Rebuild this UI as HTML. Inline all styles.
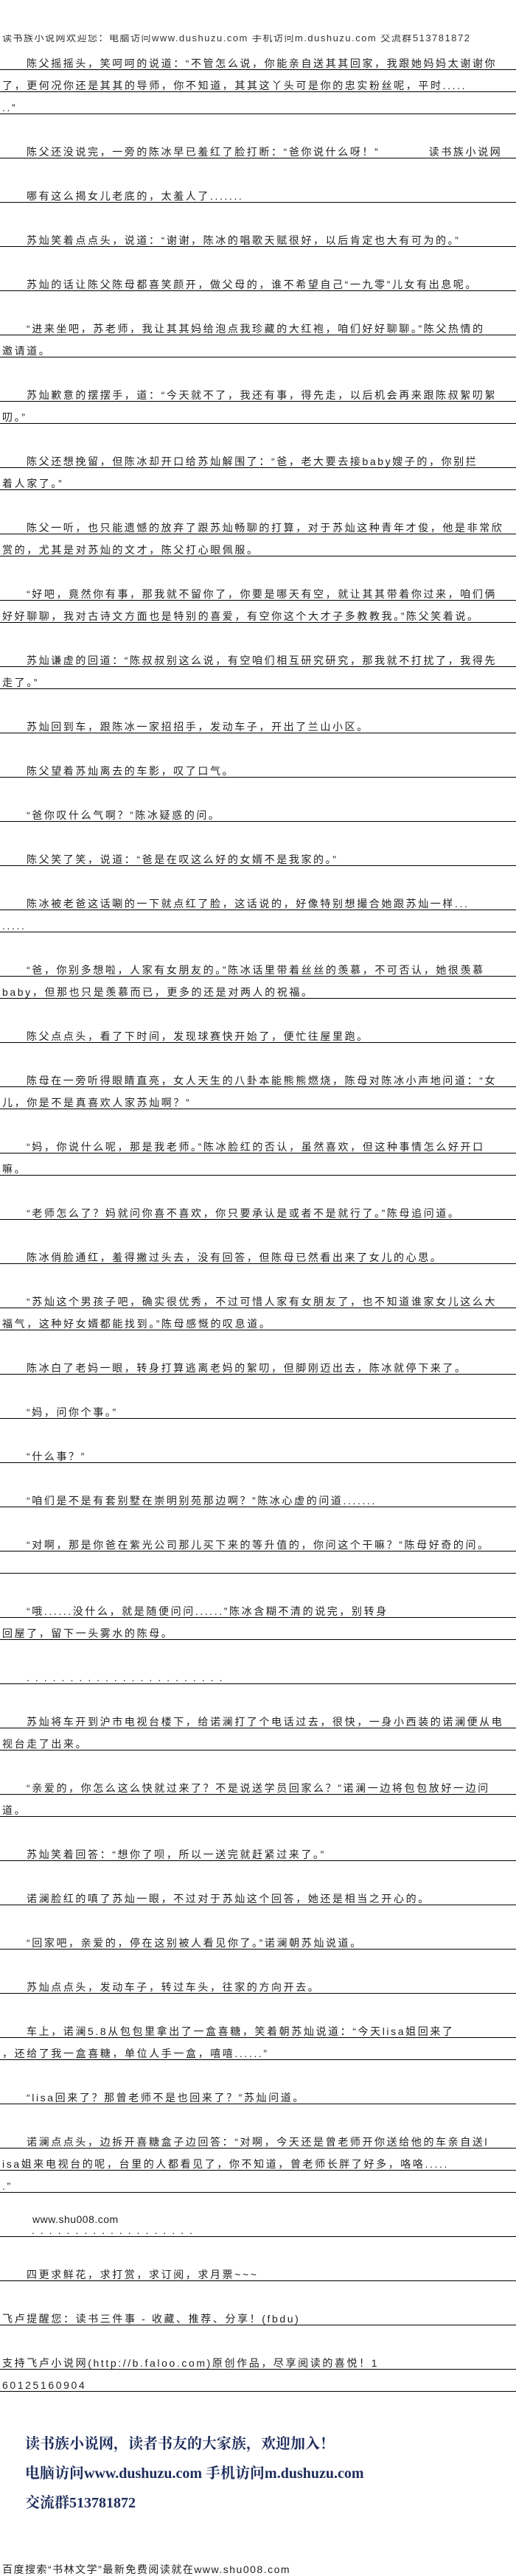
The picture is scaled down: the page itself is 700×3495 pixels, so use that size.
<!DOCTYPE html>
<html><head><meta charset="utf-8">
<style>
html,body{margin:0;padding:0;background:#fff;}
body{width:700px;height:3495px;position:relative;overflow:hidden;font-family:"Liberation Sans","Noto Sans CJK SC",sans-serif;}
.r{position:absolute;left:0;width:700px;height:30px;border-bottom:1px solid #000;box-sizing:border-box;}
.r span{position:absolute;bottom:1px;left:3px;font-size:14px;line-height:14px;letter-spacing:2.6px;color:#222;white-space:nowrap;}
.r.i span{left:36px;}
.hdr{position:absolute;left:0;top:47px;height:11px;width:700px;overflow:hidden;}
.hdr span{position:absolute;bottom:0;left:3px;font-size:13px;line-height:13px;letter-spacing:1.5px;color:#333;white-space:nowrap;}
.blue{position:absolute;left:34px;font-family:"Liberation Serif","Noto Serif CJK SC",serif;font-weight:bold;font-size:20px;line-height:20px;color:#1c2b5a;white-space:nowrap;}
.plain{position:absolute;font-size:14px;line-height:14px;letter-spacing:2.6px;color:#222;white-space:nowrap;}
</style></head><body>
<div class="hdr"><span>读书族小说网欢迎您：电脑访问www.dushuzu.com 手机访问m.dushuzu.com 交流群513781872</span></div>

<div class="r i" style="top:65px"><span>陈父摇摇头，笑呵呵的说道：“不管怎么说，你能亲自送其其回家，我跟她妈妈太谢谢你</span></div>
<div class="r" style="top:95px"><span>了，更何况你还是其其的导师，你不知道，其其这丫头可是你的忠实粉丝呢，平时.....</span></div>
<div class="r" style="top:125px"><span>..”</span></div>
<div class="r i" style="top:185px"><span>陈父还没说完，一旁的陈冰早已羞红了脸打断：“爸你说什么呀！”&#12288;&#12288;&#12288;&#12288;读书族小说网</span></div>
<div class="r i" style="top:245px"><span>哪有这么揭女儿老底的，太羞人了.......</span></div>
<div class="r i" style="top:305px"><span>苏灿笑着点点头，说道：“谢谢，陈冰的唱歌天赋很好，以后肯定也大有可为的。”</span></div>
<div class="r i" style="top:365px"><span>苏灿的话让陈父陈母都喜笑颜开，做父母的，谁不希望自己“一九零”儿女有出息呢。</span></div>
<div class="r i" style="top:425px"><span>“进来坐吧，苏老师，我让其其妈给泡点我珍藏的大红袍，咱们好好聊聊。”陈父热情的</span></div>
<div class="r" style="top:455px"><span>邀请道。</span></div>
<div class="r i" style="top:515px"><span>苏灿歉意的摆摆手，道：“今天就不了，我还有事，得先走，以后机会再来跟陈叔絮叨絮</span></div>
<div class="r" style="top:545px"><span>叨。”</span></div>
<div class="r i" style="top:605px"><span>陈父还想挽留，但陈冰却开口给苏灿解围了：“爸，老大要去接baby嫂子的，你别拦</span></div>
<div class="r" style="top:635px"><span>着人家了。”</span></div>
<div class="r i" style="top:695px"><span>陈父一听，也只能遗憾的放弃了跟苏灿畅聊的打算，对于苏灿这种青年才俊，他是非常欣</span></div>
<div class="r" style="top:725px"><span>赏的，尤其是对苏灿的文才，陈父打心眼佩服。</span></div>
<div class="r i" style="top:785px"><span>“好吧，竟然你有事，那我就不留你了，你要是哪天有空，就让其其带着你过来，咱们俩</span></div>
<div class="r" style="top:815px"><span>好好聊聊，我对古诗文方面也是特别的喜爱，有空你这个大才子多教教我。”陈父笑着说。</span></div>
<div class="r i" style="top:875px"><span>苏灿谦虚的回道：“陈叔叔别这么说，有空咱们相互研究研究，那我就不打扰了，我得先</span></div>
<div class="r" style="top:905px"><span>走了。”</span></div>
<div class="r i" style="top:965px"><span>苏灿回到车，跟陈冰一家招招手，发动车子，开出了兰山小区。</span></div>
<div class="r i" style="top:1025px"><span>陈父望着苏灿离去的车影，叹了口气。</span></div>
<div class="r i" style="top:1085px"><span>“爸你叹什么气啊？”陈冰疑惑的问。</span></div>
<div class="r i" style="top:1145px"><span>陈父笑了笑，说道：“爸是在叹这么好的女婿不是我家的。”</span></div>
<div class="r i" style="top:1205px"><span>陈冰被老爸这话唰的一下就点红了脸，这话说的，好像特别想撮合她跟苏灿一样...</span></div>
<div class="r" style="top:1235px"><span>.....</span></div>
<div class="r i" style="top:1295px"><span>“爸，你别多想啦，人家有女朋友的。”陈冰话里带着丝丝的羡慕，不可否认，她很羡慕</span></div>
<div class="r" style="top:1325px"><span>baby，但那也只是羡慕而已，更多的还是对两人的祝福。</span></div>
<div class="r i" style="top:1385px"><span>陈父点点头，看了下时间，发现球赛快开始了，便忙往屋里跑。</span></div>
<div class="r i" style="top:1445px"><span>陈母在一旁听得眼睛直亮，女人天生的八卦本能熊熊燃烧，陈母对陈冰小声地问道：“女</span></div>
<div class="r" style="top:1475px"><span>儿，你是不是真喜欢人家苏灿啊？”</span></div>
<div class="r i" style="top:1535px"><span>“妈，你说什么呢，那是我老师。”陈冰脸红的否认，虽然喜欢，但这种事情怎么好开口</span></div>
<div class="r" style="top:1565px"><span>嘛。</span></div>
<div class="r i" style="top:1625px"><span>“老师怎么了？妈就问你喜不喜欢，你只要承认是或者不是就行了。”陈母追问道。</span></div>
<div class="r i" style="top:1685px"><span>陈冰俏脸通红，羞得撇过头去，没有回答，但陈母已然看出来了女儿的心思。</span></div>
<div class="r i" style="top:1745px"><span>“苏灿这个男孩子吧，确实很优秀，不过可惜人家有女朋友了，也不知道谁家女儿这么大</span></div>
<div class="r" style="top:1775px"><span>福气，这种好女婿都能找到。”陈母感慨的叹息道。</span></div>
<div class="r i" style="top:1835px"><span>陈冰白了老妈一眼，转身打算逃离老妈的絮叨，但脚刚迈出去，陈冰就停下来了。</span></div>
<div class="r i" style="top:1895px"><span>“妈，问你个事。”</span></div>
<div class="r i" style="top:1955px"><span>“什么事？”</span></div>
<div class="r i" style="top:2015px"><span>“咱们是不是有套别墅在崇明别苑那边啊？”陈冰心虚的问道.......</span></div>
<div class="r i" style="top:2075px"><span>“对啊，那是你爸在紫光公司那儿买下来的等升值的，你问这个干嘛？”陈母好奇的问。</span></div>
<div class="r" style="top:2105px"><span></span></div>
<div class="r i" style="top:2165px"><span>“哦......没什么，就是随便问问......”陈冰含糊不清的说完，别转身</span></div>
<div class="r" style="top:2195px"><span>回屋了，留下一头雾水的陈母。</span></div>
<div class="r i" style="top:2255px"><span style="letter-spacing:8px">.......................</span></div>
<div class="r i" style="top:2315px"><span>苏灿将车开到沪市电视台楼下，给诺澜打了个电话过去，很快，一身小西装的诺澜便从电</span></div>
<div class="r" style="top:2345px"><span>视台走了出来。</span></div>
<div class="r i" style="top:2405px"><span>“亲爱的，你怎么这么快就过来了？不是说送学员回家么？”诺澜一边将包包放好一边问</span></div>
<div class="r" style="top:2435px"><span>道。</span></div>
<div class="r i" style="top:2495px"><span>苏灿笑着回答：“想你了呗，所以一送完就赶紧过来了。”</span></div>
<div class="r i" style="top:2555px"><span>诺澜脸红的嗔了苏灿一眼，不过对于苏灿这个回答，她还是相当之开心的。</span></div>
<div class="r i" style="top:2615px"><span>“回家吧，亲爱的，停在这别被人看见你了。”诺澜朝苏灿说道。</span></div>
<div class="r i" style="top:2675px"><span>苏灿点点头，发动车子，转过车头，往家的方向开去。</span></div>
<div class="r i" style="top:2735px"><span>车上，诺澜5.8从包包里拿出了一盒喜糖，笑着朝苏灿说道：“今天lisa姐回来了</span></div>
<div class="r" style="top:2765px"><span>，还给了我一盒喜糖，单位人手一盒，嘻嘻......”</span></div>
<div class="r i" style="top:2825px"><span>“lisa回来了？那曾老师不是也回来了？”苏灿问道。</span></div>
<div class="r i" style="top:2885px"><span>诺澜点点头，边拆开喜糖盒子边回答：“对啊，今天还是曾老师开你送给他的车亲自送l</span></div>
<div class="r" style="top:2915px"><span>isa姐来电视台的呢，台里的人都看见了，你不知道，曾老师长胖了好多，咯咯.....</span></div>
<div class="r" style="top:2945px"><span>.”</span></div>
<div class="plain" style="left:44px;top:3004px;letter-spacing:0.5px">www.shu008.com</div>
<div class="r" style="top:3005px"><span style="left:43px;letter-spacing:8px">...................</span></div>
<div class="r i" style="top:3065px"><span>四更求鲜花，求打赏，求订阅，求月票~~~</span></div>
<div class="r" style="top:3125px"><span>飞卢提醒您：读书三件事 - 收藏、推荐、分享！(fbdu)</span></div>
<div class="r" style="top:3185px"><span>支持飞卢小说网(http://b.faloo.com)原创作品，尽享阅读的喜悦！1</span></div>
<div class="r" style="top:3215px"><span>60125160904</span></div>

<div class="blue" style="top:3306px">读书族小说网，读者书友的大家族，欢迎加入！</div>
<div class="blue" style="top:3346px">电脑访问www.dushuzu.com 手机访问m.dushuzu.com</div>
<div class="blue" style="top:3386px">交流群513781872</div>

<div class="plain" style="left:3px;top:3479px;letter-spacing:1.5px">百度搜索“书林文学”最新免费阅读就在www.shu008.com</div>
</body></html>
